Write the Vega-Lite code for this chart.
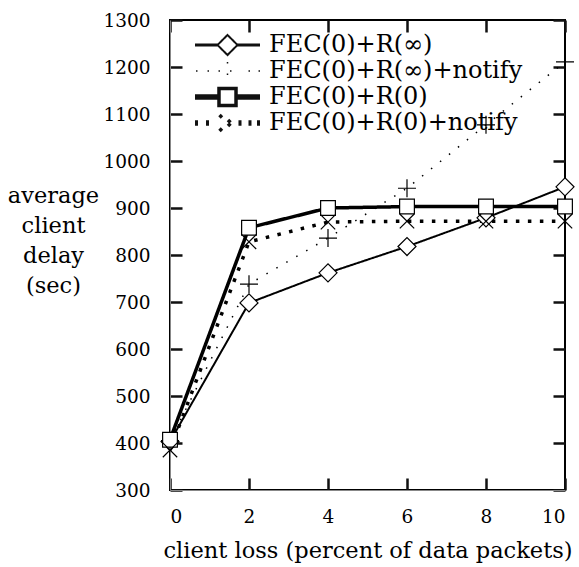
{
  "$schema": "https://vega.github.io/schema/vega-lite/v6.json",
  "width": 395,
  "height": 470,
  "autosize": {"type": "none"},
  "padding": {"left": 170, "top": 20, "right": 14, "bottom": 77},
  "background": "white",
  "config": {
    "view": {"stroke": "black", "strokeWidth": 2},
    "font": "DejaVu Serif",
    "axis": {
      "grid": true, "gridColor": "#111111", "gridWidth": 2.5, "gridDash": [12, 446, 12, 1000],
      "labelFont": "DejaVu Serif", "labelFontSize": 18.5, "labelColor": "black",
      "titleFont": "DejaVu Serif", "titleFontSize": 22.5, "titleFontWeight": "normal", "titleColor": "black"
    }
  },
  "data": {"values": [
    {"loss": 0, "delay": 403, "series": "FEC(0)+R(∞)"},
    {"loss": 2, "delay": 698, "series": "FEC(0)+R(∞)"},
    {"loss": 4, "delay": 762, "series": "FEC(0)+R(∞)"},
    {"loss": 6, "delay": 818, "series": "FEC(0)+R(∞)"},
    {"loss": 8, "delay": 879, "series": "FEC(0)+R(∞)"},
    {"loss": 10, "delay": 945, "series": "FEC(0)+R(∞)"},
    {"loss": 0, "delay": 405, "series": "FEC(0)+R(∞)+notify"},
    {"loss": 2, "delay": 738, "series": "FEC(0)+R(∞)+notify"},
    {"loss": 4, "delay": 836, "series": "FEC(0)+R(∞)+notify"},
    {"loss": 6, "delay": 942, "series": "FEC(0)+R(∞)+notify"},
    {"loss": 8, "delay": 1077, "series": "FEC(0)+R(∞)+notify"},
    {"loss": 10, "delay": 1211, "series": "FEC(0)+R(∞)+notify"},
    {"loss": 0, "delay": 407, "series": "FEC(0)+R(0)"},
    {"loss": 2, "delay": 858, "series": "FEC(0)+R(0)"},
    {"loss": 4, "delay": 900, "series": "FEC(0)+R(0)"},
    {"loss": 6, "delay": 903, "series": "FEC(0)+R(0)"},
    {"loss": 8, "delay": 903, "series": "FEC(0)+R(0)"},
    {"loss": 10, "delay": 903, "series": "FEC(0)+R(0)"},
    {"loss": 0, "delay": 385, "series": "FEC(0)+R(0)+notify"},
    {"loss": 2, "delay": 828, "series": "FEC(0)+R(0)+notify"},
    {"loss": 4, "delay": 870, "series": "FEC(0)+R(0)+notify"},
    {"loss": 6, "delay": 872, "series": "FEC(0)+R(0)+notify"},
    {"loss": 8, "delay": 872, "series": "FEC(0)+R(0)+notify"},
    {"loss": 10, "delay": 872, "series": "FEC(0)+R(0)+notify"}
  ]},
  "layer": [
    {
      "mark": {"type": "line", "color": "black"},
      "encoding": {
        "x": {"field": "loss", "type": "quantitative", "scale": {"domain": [0, 10]},
          "axis": {"values": [0, 2, 4, 6, 8, 10], "gridDash": [12, 446, 12, 1000], "tickSize": 0, "labelPadding": 17, "title": "client loss (percent of data packets)", "titlePadding": 14}},
        "y": {"field": "delay", "type": "quantitative", "scale": {"domain": [300, 1300]},
          "axis": {"values": [300, 400, 500, 600, 700, 800, 900, 1000, 1100, 1200, 1300], "gridDash": [12, 371, 12, 1000], "tickSize": 0, "format": "d", "labelPadding": 20,
            "title": ["average", "client", "delay", "(sec)"], "titleAngle": 0, "titleAlign": "center", "titleBaseline": "top",
            "titleX": -117, "titleY": 164, "titleLineHeight": 30}},
        "strokeDash": {"field": "series", "type": "nominal",
          "scale": {"domain": ["FEC(0)+R(∞)", "FEC(0)+R(∞)+notify", "FEC(0)+R(0)", "FEC(0)+R(0)+notify"], "range": [[1, 0], [1.5, 10], [1, 0], [3.5, 8.5]]},
          "legend": {"orient": "none", "legendX": 23, "legendY": 13, "title": null, "labelFont": "DejaVu Serif", "labelFontSize": 24, "labelColor": "black", "labelLimit": 400,
            "symbolSize": 4225, "symbolType": "stroke", "symbolStrokeColor": "#111111", "labelOffset": 7, "rowPadding": 2, "padding": 0, "clipHeight": 24,
            "encode": {"symbols": {"update": {
              "shape": {"signal": "datum.value === 'FEC(0)+R(∞)' ? 'M-1,-0.018H-0.3M-1,0.018H-0.3M0.3,-0.018H1M0.3,0.018H1M-0.308,0L0,-0.308L0.308,0L0,0.308Z' : datum.value === 'FEC(0)+R(∞)+notify' ? 'M-0.969,0H-0.923M-0.615,0H-0.569M0.646,0H0.692M0.954,0H1M-0.277,0H0.277M0,-0.277V0.277' : datum.value === 'FEC(0)+R(0)' ? 'M-1,-0.031H-0.262M-1,0H-0.262M-1,0.031H-0.262M0.262,-0.031H1M0.262,0H1M0.262,0.031H1M-0.262,-0.262H0.262V0.262H-0.262Z' : 'M-1,-0.031H-0.908M-1,0H-0.908M-1,0.031H-0.908M-0.662,-0.031H-0.569M-0.662,0H-0.569M-0.662,0.031H-0.569M0.338,-0.031H0.431M0.338,0H0.431M0.338,0.031H0.431M0.646,-0.031H0.738M0.646,0H0.738M0.646,0.031H0.738M0.908,-0.031H1M0.908,0H1M0.908,0.031H1M-0.246,-0.246L0.246,0.246M-0.246,0.246L0.246,-0.246'"},
              "stroke": {"value": "#111111"},
              "fill": {"value": "white"},
              "strokeWidth": {"value": 1.4},
              "strokeDash": {"value": [1, 0]},
              "opacity": {"value": 1}
            }}}}},
        "strokeWidth": {"field": "series", "type": "nominal", "legend": null,
          "scale": {"type": "ordinal", "domain": ["FEC(0)+R(∞)", "FEC(0)+R(∞)+notify", "FEC(0)+R(0)", "FEC(0)+R(0)+notify"], "range": [2, 1.5, 3.5, 3.5]}}
      }
    },
    {
      "transform": [{"filter": "datum.series === 'FEC(0)+R(∞)'"}],
      "mark": {"type": "point", "shape": "M-1,0L0,-1L1,0L0,1Z", "fill": "white", "stroke": "black", "strokeWidth": 1.2, "size": 324, "opacity": 1},
      "encoding": {
        "x": {"field": "loss", "type": "quantitative"},
        "y": {"field": "delay", "type": "quantitative"}
      }
    },
    {
      "transform": [{"filter": "datum.series === 'FEC(0)+R(∞)+notify'"}],
      "mark": {"type": "point", "shape": "M-1,0H1M0,-1V1", "fill": "white", "stroke": "black", "strokeWidth": 1.2, "size": 324, "opacity": 1},
      "encoding": {
        "x": {"field": "loss", "type": "quantitative"},
        "y": {"field": "delay", "type": "quantitative"}
      }
    },
    {
      "transform": [{"filter": "datum.series === 'FEC(0)+R(0)'"}],
      "mark": {"type": "point", "shape": "M-0.82,-0.82H0.82V0.82H-0.82Z", "fill": "white", "stroke": "black", "strokeWidth": 1.2, "size": 324, "opacity": 1},
      "encoding": {
        "x": {"field": "loss", "type": "quantitative"},
        "y": {"field": "delay", "type": "quantitative"}
      }
    },
    {
      "transform": [{"filter": "datum.series === 'FEC(0)+R(0)+notify'"}],
      "mark": {"type": "point", "shape": "M-0.8,-0.8L0.8,0.8M-0.8,0.8L0.8,-0.8", "fill": "white", "stroke": "black", "strokeWidth": 1.2, "size": 324, "opacity": 1},
      "encoding": {
        "x": {"field": "loss", "type": "quantitative"},
        "y": {"field": "delay", "type": "quantitative"}
      }
    }
  ]
}
